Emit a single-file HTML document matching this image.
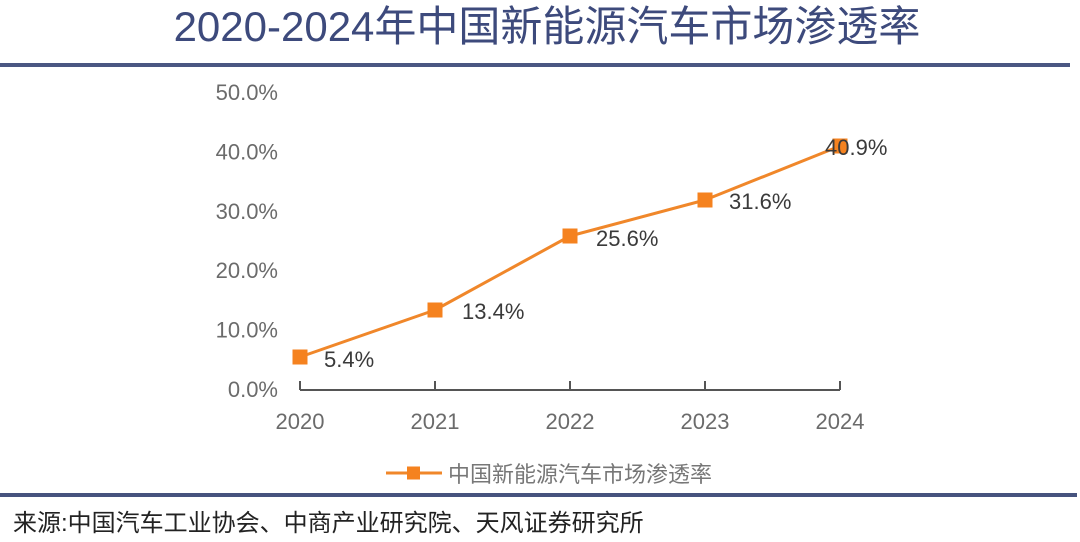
<!DOCTYPE html>
<html>
<head>
<meta charset="utf-8">
<style>
html,body{margin:0;padding:0;background:#fff;}
body{width:1080px;height:542px;overflow:hidden;}
svg{display:block;}
</style>
</head>
<body>
<svg width="1080" height="542" viewBox="0 0 1080 542" xmlns="http://www.w3.org/2000/svg">
  <rect width="1080" height="542" fill="#ffffff"/>
  <!-- Title -->
  <text x="547" y="41" text-anchor="middle" font-family="'Liberation Sans','Noto Sans CJK SC',sans-serif" font-size="42" fill="#3d4a7c">2020-2024年中国新能源汽车市场渗透率</text>
  <rect x="0" y="63" width="1070" height="4" fill="#4a5782"/>

  <!-- Y axis labels -->
  <g font-family="'Liberation Sans',sans-serif" font-size="22" fill="#6b6b6b" text-anchor="end">
    <text x="278" y="100">50.0%</text>
    <text x="278" y="159.4">40.0%</text>
    <text x="278" y="218.8">30.0%</text>
    <text x="278" y="278.2">20.0%</text>
    <text x="278" y="337.6">10.0%</text>
    <text x="278" y="397">0.0%</text>
  </g>

  <!-- X axis -->
  <g stroke="#555" stroke-width="2" fill="none">
    <line x1="300" y1="390" x2="840" y2="390"/>
    <line x1="300" y1="381" x2="300" y2="390"/>
    <line x1="435" y1="381" x2="435" y2="390"/>
    <line x1="570" y1="381" x2="570" y2="390"/>
    <line x1="705" y1="381" x2="705" y2="390"/>
    <line x1="840" y1="381" x2="840" y2="390"/>
  </g>
  <g font-family="'Liberation Sans',sans-serif" font-size="22" fill="#6b6b6b" text-anchor="middle">
    <text x="300" y="429">2020</text>
    <text x="435" y="429">2021</text>
    <text x="570" y="429">2022</text>
    <text x="705" y="429">2023</text>
    <text x="840" y="429">2024</text>
  </g>

  <!-- Series -->
  <polyline points="300,357 435,310 570,236 705,200 840,146" fill="none" stroke="#f0872a" stroke-width="3" stroke-linejoin="round"/>
  <g fill="#f5821f">
    <rect x="292.5" y="349.5" width="15" height="15"/>
    <rect x="427.5" y="302.5" width="15" height="15"/>
    <rect x="562.5" y="228.5" width="15" height="15"/>
    <rect x="697.5" y="192.5" width="15" height="15"/>
    <rect x="832.5" y="138.5" width="15" height="15"/>
  </g>
  <g font-family="'Liberation Sans',sans-serif" font-size="22" fill="#3a3a3a">
    <text x="324" y="367">5.4%</text>
    <text x="462" y="319">13.4%</text>
    <text x="596" y="246">25.6%</text>
    <text x="729" y="209">31.6%</text>
    <text x="825" y="155">40.9%</text>
  </g>

  <!-- Legend -->
  <line x1="386" y1="473" x2="442" y2="473" stroke="#f0872a" stroke-width="3"/>
  <rect x="407" y="466.5" width="13" height="13" fill="#f5821f"/>
  <text x="448" y="482" font-family="'Liberation Sans','Noto Sans CJK SC',sans-serif" font-size="22" fill="#777777">中国新能源汽车市场渗透率</text>

  <!-- Bottom rule -->
  <rect x="0" y="493" width="1077" height="4" fill="#46537e"/>

  <!-- Source -->
  <text x="13" y="531" font-family="'Liberation Sans','Noto Sans CJK SC',sans-serif" font-size="24" fill="#222222">来源:中国汽车工业协会、中商产业研究院、天风证券研究所</text>
</svg>
</body>
</html>
